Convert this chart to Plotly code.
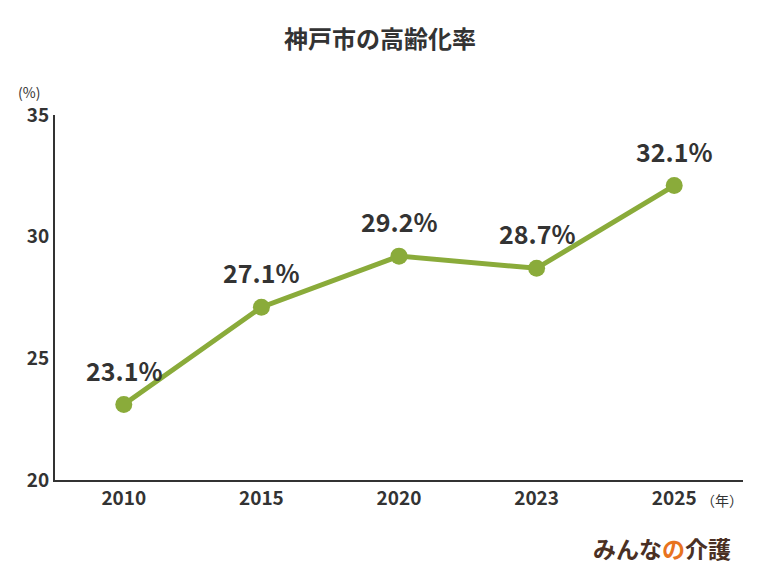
import plotly.graph_objects as go

years = ["2010", "2015", "2020", "2023", "2025"]
rates = [23.1, 27.1, 29.2, 28.7, 32.1]
labels = ["23.1%", "27.1%", "29.2%", "28.7%", "32.1%"]
yticks = [20, 25, 30, 35]

F = "Noto Sans CJK JP"
C = "#333333"
G = "#8aab3a"
fig = go.Figure(go.Scatter(
    x=years, y=rates, mode="lines+markers",
    line=dict(color=G, width=5), marker=dict(color=G, size=17),
    cliponaxis=False, hoverinfo="skip"))

ann = []
for i, (v, t) in enumerate(zip(rates, labels)):
    ann.append(dict(x=i, y=v, text=t, showarrow=False, yshift=35, xref="x", yref="y",
                    xanchor="center", yanchor="middle",
                    font=dict(family=F, size=25, color=C, weight="bold")))

def P(X, Y, **kw):
    d = dict(x=(X - 55) / 688, y=(480 - Y) / 365, xref="paper", yref="paper",
             showarrow=False, xanchor="center", yanchor="middle")
    d.update(kw)
    return d

ann += [
    P(29, 92, text="(%)", font=dict(family=F, size=14, color=C)),
    P(722, 500, text="（年）", font=dict(family=F, size=14, color=C)),
    P(662, 548, text="みんな<span style='color:#e8731e'>の</span>介護",
      font=dict(family=F, size=23, color="#4a3024", weight="bold")),
]

fig.update_layout(
    width=760, height=570, margin=dict(l=47, r=25, t=107, b=98, autoexpand=False),
    paper_bgcolor="white", plot_bgcolor="white", showlegend=False,
    title=dict(text="神戸市の高齢化率", x=(380 - 8) / 760, xanchor="center",
               y=1 - (40 - 8) / 570, yanchor="middle",
               font=dict(family=F, size=24, color=C, weight="bold")),
    xaxis=dict(type="category", range=[-0.5, 4.5], showline=True, linecolor=C,
               linewidth=2, ticks="", showgrid=False,
               tickfont=dict(family=F, size=19, color=C, weight="bold")),
    yaxis=dict(range=[20, 35], tickvals=yticks, showline=True, linecolor=C,
               linewidth=2, ticks="", showgrid=False, zeroline=False,
               tickfont=dict(family=F, size=19, color=C, weight="bold")),
    annotations=ann,
)
fig.write_html("out.html")
